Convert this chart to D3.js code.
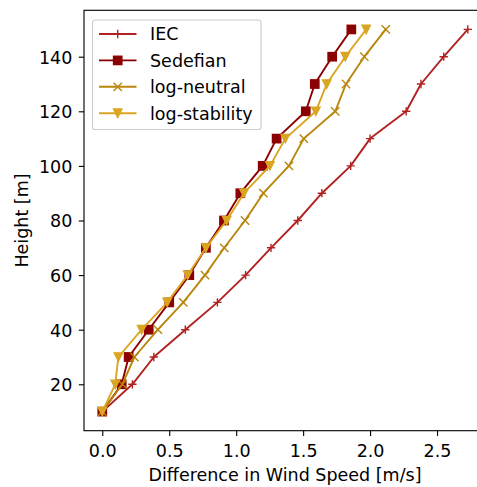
<!DOCTYPE html>
<html>
<head>
<meta charset="utf-8">
<script src="https://cdn.jsdelivr.net/npm/d3@7"></script>
<style>
  body { margin: 0; background: #fff; }
  svg { display: block; font-family: "DejaVu Sans", sans-serif; }
</style>
</head>
<body>
<svg id="chart" width="477" height="487"></svg>
<script>
const heights = [10, 20, 30, 40, 50, 60, 70, 80, 90, 100, 110, 120, 130, 140, 150];
const iec = [0, 0.225, 0.385, 0.62, 0.86, 1.07, 1.26, 1.46, 1.64, 1.855, 2.0, 2.27, 2.38, 2.55, 2.73];
const sedefian = [0, 0.145, 0.197, 0.347, 0.50, 0.65, 0.774, 0.909, 1.031, 1.198, 1.302, 1.52, 1.587, 1.717, 1.86];
const logNeutral = [0, 0.15, 0.24, 0.415, 0.605, 0.767, 0.911, 1.066, 1.203, 1.394, 1.505, 1.74, 1.82, 1.957, 2.117];
const logStability = [0, 0.097, 0.12, 0.294, 0.485, 0.638, 0.774, 0.929, 1.058, 1.252, 1.367, 1.595, 1.676, 1.815, 1.971];
const seriesNames = ["IEC", "Sedefian", "log-neutral", "log-stability"];
const xTicks = [0.0, 0.5, 1.0, 1.5, 2.0, 2.5];
const yTicks = [20, 40, 60, 80, 100, 120, 140];

const series = [
  { name: seriesNames[0], values: iec, color: "#b22222", marker: "plus" },
  { name: seriesNames[1], values: sedefian, color: "#8b0000", marker: "square" },
  { name: seriesNames[2], values: logNeutral, color: "#b8860b", marker: "x" },
  { name: seriesNames[3], values: logStability, color: "#daa520", marker: "tri" }
];

const svg = d3.select("#chart");
const pLeft = 84.0, pRight = 486.1, pTop = 10.3, pBottom = 430.7;

const allX = [].concat(iec, sedefian, logNeutral, logStability);
const xMin = d3.min(allX), xMax = d3.max(allX);
const xm = (xMax - xMin) * 0.05;
const yMin = d3.min(heights), yMax = d3.max(heights);
const ym = (yMax - yMin) * 0.05;

const x = d3.scaleLinear().domain([xMin - xm, xMax + xm]).range([pLeft, pRight]);
const y = d3.scaleLinear().domain([yMin - ym, yMax + ym]).range([pBottom, pTop]);

const fs = 17.5;
const lw = 1.9;
const ms = 8.33;
const mew = 1.39;
const tickLen = 5.2;

function drawMarker(g, type, cx, cy, color) {
  const h = ms / 2;
  if (type === "plus") {
    g.append("path").attr("d", `M${cx - h},${cy}H${cx + h}M${cx},${cy - h}V${cy + h}`)
      .attr("stroke", color).attr("stroke-width", mew).attr("fill", "none");
  } else if (type === "x") {
    g.append("path").attr("d", `M${cx - h},${cy - h}L${cx + h},${cy + h}M${cx - h},${cy + h}L${cx + h},${cy - h}`)
      .attr("stroke", color).attr("stroke-width", mew).attr("fill", "none");
  } else if (type === "square") {
    g.append("rect").attr("x", cx - h).attr("y", cy - h).attr("width", ms).attr("height", ms)
      .attr("fill", color).attr("stroke", color).attr("stroke-width", mew).attr("stroke-linejoin", "miter");
  } else if (type === "tri") {
    g.append("path").attr("d", `M${cx},${cy + h}L${cx - h},${cy - h}L${cx + h},${cy - h}Z`)
      .attr("fill", color).attr("stroke", color).attr("stroke-width", mew).attr("stroke-linejoin", "miter");
  }
}

const plot = svg.append("g");
const line = d3.line().x(d => x(d[0])).y(d => y(d[1]));

series.forEach(s => {
  const pts = s.values.map((v, i) => [v, heights[i]]);
  const g = plot.append("g");
  g.append("path").datum(pts).attr("d", line)
    .attr("fill", "none").attr("stroke", s.color).attr("stroke-width", lw)
    .attr("stroke-linejoin", "round").attr("stroke-linecap", "square");
  pts.forEach(p => drawMarker(g, s.marker, x(p[0]), y(p[1]), s.color));
});

// Axes
const xAxis = d3.axisBottom(x).tickValues(xTicks).tickFormat(d3.format(".1f")).tickSizeOuter(0).tickSize(tickLen).tickPadding(5);
const yAxis = d3.axisLeft(y).tickValues(yTicks).tickFormat(d3.format("d")).tickSizeOuter(0).tickSize(tickLen).tickPadding(6.5);

const gx = svg.append("g").attr("transform", `translate(0,${pBottom})`).call(xAxis);
const gy = svg.append("g").attr("transform", `translate(${pLeft},0)`).call(yAxis);
[gx, gy].forEach(g => {
  g.select(".domain").remove();
  g.selectAll(".tick line").attr("stroke", "#000").attr("stroke-width", 1.11);
  g.selectAll(".tick text").attr("fill", "#000").attr("font-size", fs).attr("font-family", "DejaVu Sans");
});
gx.selectAll(".tick text").attr("y", 26.5).attr("dy", 0);
gy.selectAll(".tick text").attr("dy", "0.36em");

// Spines
svg.append("rect").attr("x", pLeft).attr("y", pTop).attr("width", pRight - pLeft).attr("height", pBottom - pTop)
  .attr("fill", "none").attr("stroke", "#000").attr("stroke-width", 1.11);

// Axis labels
svg.append("text").attr("x", 285).attr("y", 480.5).attr("text-anchor", "middle")
  .attr("font-size", fs).attr("fill", "#000").text("Difference in Wind Speed [m/s]");
svg.append("text").attr("transform", `translate(27.5,${(pTop + pBottom) / 2}) rotate(-90)`)
  .attr("text-anchor", "middle").attr("font-size", fs).attr("fill", "#000").text("Height [m]");

// Legend
const lg = svg.append("g");
lg.append("rect").attr("x", 92.5).attr("y", 20).attr("width", 168.5).attr("height", 109.5)
  .attr("rx", 2.8).attr("fill", "#fff").attr("fill-opacity", 0.8)
  .attr("stroke", "#cccccc").attr("stroke-width", 1.11);
series.forEach((s, i) => {
  const cy = 34 + i * 26.4;
  lg.append("line").attr("x1", 99).attr("x2", 136.5).attr("y1", cy).attr("y2", cy)
    .attr("stroke", s.color).attr("stroke-width", lw);
  drawMarker(lg, s.marker, 117.7, cy, s.color);
  lg.append("text").attr("x", 150).attr("y", cy).attr("dy", "0.36em")
    .attr("font-size", fs).attr("fill", "#000").text(s.name);
});
</script>
</body>
</html>
